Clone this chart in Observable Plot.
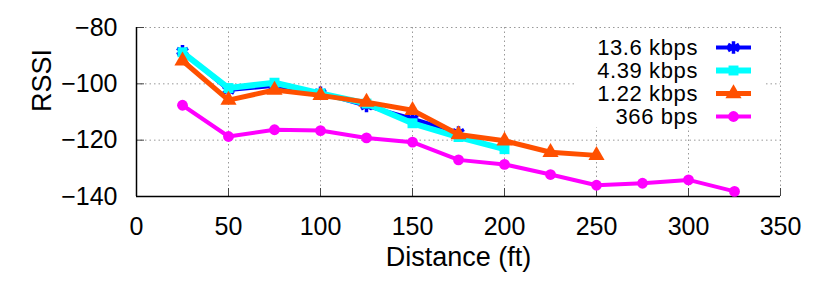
<!DOCTYPE html>
<html><head><meta charset="utf-8">
<script src="https://cdn.jsdelivr.net/npm/d3@7"></script>
<script src="https://cdn.jsdelivr.net/npm/@observablehq/plot@0.6"></script>
<style>
body{margin:0;background:#fff;font-family:"Liberation Sans",Arial,sans-serif;}
#wrap{position:relative;width:830px;height:291px;overflow:hidden;}
#legend{position:absolute;left:577px;top:31px;width:186px;height:96px;background:#fff;}
.row{position:absolute;left:0;height:23px;width:186px;}
.row span{position:absolute;right:65px;top:0;font-size:22px;line-height:23px;letter-spacing:0.6px;color:#000;white-space:nowrap;}
.row svg{position:absolute;left:137px;top:0;}
</style></head><body>
<div id="wrap"><div id="chart"></div><div id="legend"></div></div>
<script>
const distances = [25, 50, 75, 100, 125, 150, 175, 200, 225, 250, 275, 300, 325];
const seriesNames = ["13.6 kbps", "4.39 kbps", "1.22 kbps", "366 bps"];
const rssi13_6 = [-88.5, -102.2, -100.7, -103.2, -107.8, -112.4, -117.3];
const rssi4_39 = [-88.8, -101.5, -99.6, -103.4, -107.0, -114.0, -118.9, -123.2];
const rssi1_22 = [-91.8, -105.8, -102.2, -104.1, -106.5, -109.4, -118.0, -120.2, -124.3, -125.4];
const rssi366 = [-107.6, -118.7, -116.3, -116.6, -119.2, -120.7, -127.0, -128.6, -132.2, -136.0, -135.3, -134.1, -138.2];
const xTicks = [0, 50, 100, 150, 200, 250, 300, 350];
const yTicks = [-140, -120, -100, -80];
const xLabel = "Distance (ft)";
const yLabel = "RSSI";

const seriesValues = [rssi13_6, rssi4_39, rssi1_22, rssi366];
const styles = [
  {color: "#0000ff", symbol: "asterisk", r: 6, width: 4, filled: false},
  {color: "#00ffff", symbol: "square", r: 5.6, width: 6, filled: true},
  {color: "#ff5000", symbol: "triangle", r: 6, width: 5, filled: true},
  {color: "#ff00ff", symbol: "circle", r: 5.4, width: 4, filled: true}
];

const rows = seriesNames.map((name, i) => seriesValues[i].map((v, j) => ({series: name, distance: distances[j], rssi: v})));

const marks = [
  Plot.gridX(xTicks, {stroke: "#999", strokeOpacity: 1, strokeDasharray: "1.5,3"}),
  Plot.gridY(yTicks, {stroke: "#999", strokeOpacity: 1, strokeDasharray: "1.5,3"}),
  Plot.ruleX(xTicks, {x: d => d, y1: -140, y2: -140, insetTop: -8, stroke: "#444", strokeWidth: 1}),
  Plot.ruleY(yTicks, {y: d => d, x1: 0, x2: 0, insetRight: -8, stroke: "#444", strokeWidth: 1}),
  Plot.ruleX([0], {stroke: "#000", strokeWidth: 1.5}),
  Plot.ruleY([-140], {stroke: "#000", strokeWidth: 1.5}),
  Plot.axisX(xTicks, {tickSize: 0, tickPadding: 21, fontSize: 25, label: null, tickFormat: d => d}),
  Plot.axisY(yTicks, {tickSize: 0, tickPadding: 19, fontSize: 25, label: null}),
  Plot.text([xLabel], {frameAnchor: "bottom", dy: 69, text: d => d, fontSize: 27}),
  Plot.text([yLabel], {frameAnchor: "left", dx: -94, rotate: -90, text: d => d, fontSize: 27})
];
rows.forEach((data, i) => {
  const s = styles[i];
  marks.push(Plot.line(data, {x: "distance", y: "rssi", stroke: s.color, strokeWidth: s.width, strokeLinejoin: "round"}));
  marks.push(Plot.dot(data, {x: "distance", y: "rssi", symbol: s.symbol, r: s.r,
    fill: s.filled ? s.color : "none", stroke: s.color, strokeWidth: s.filled ? 0 : 3.5}));
});

const chart = Plot.plot({
  width: 830, height: 291,
  marginLeft: 136, marginRight: 50, marginTop: 27, marginBottom: 95,
  style: {fontFamily: "Liberation Sans, Arial, sans-serif", color: "#000", background: "#fff"},
  x: {domain: [0, 350]},
  y: {domain: [-140, -80]},
  marks
});
document.getElementById("chart").appendChild(chart);

// legend
const legend = document.getElementById("legend");
seriesNames.forEach((name, i) => {
  const s = styles[i];
  const row = document.createElement("div");
  row.className = "row";
  row.style.top = (5 + i * 23) + "px";
  const span = document.createElement("span");
  span.textContent = name;
  row.appendChild(span);
  const svg = d3.create("svg").attr("width", 40).attr("height", 23);
  svg.append("line").attr("x1", 2).attr("x2", 37).attr("y1", 11.5).attr("y2", 11.5)
    .attr("stroke", s.color).attr("stroke-width", s.width);
  const symType = {asterisk: d3.symbolAsterisk, square: d3.symbolSquare, triangle: d3.symbolTriangle, circle: d3.symbolCircle}[s.symbol];
  const path = d3.symbol(symType, Math.PI * s.r * s.r)();
  svg.append("path").attr("d", path).attr("transform", "translate(19.5,11.5)")
    .attr("fill", s.filled ? s.color : "none").attr("stroke", s.color).attr("stroke-width", s.filled ? 0 : 3.5);
  row.appendChild(svg.node());
  legend.appendChild(row);
});
</script>
</body></html>
